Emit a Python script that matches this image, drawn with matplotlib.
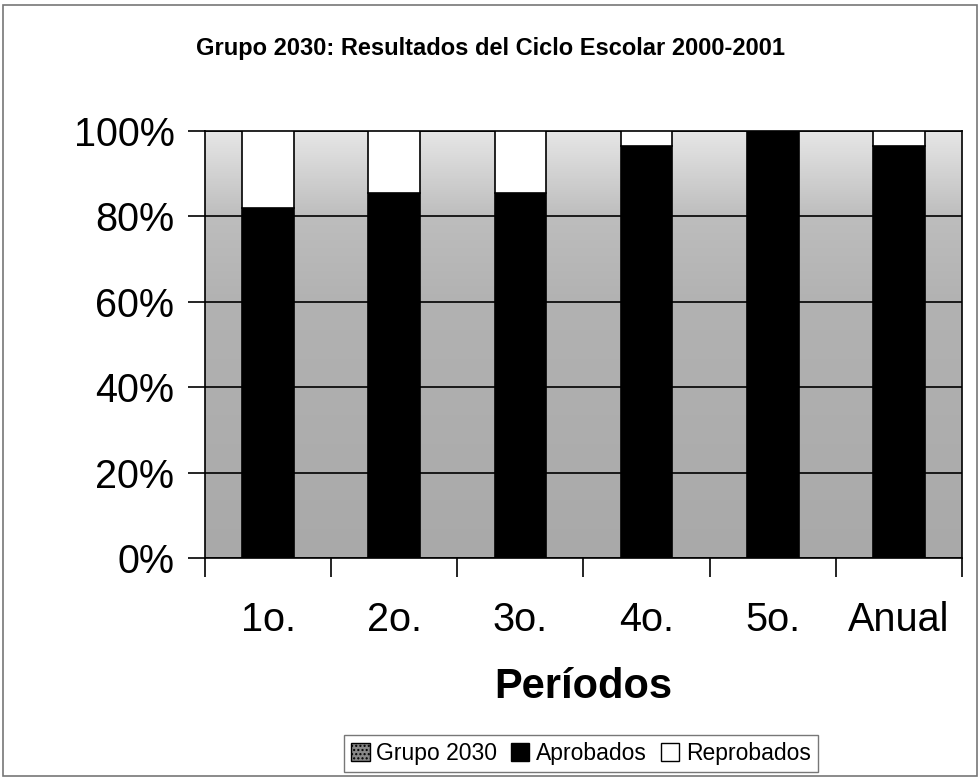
import matplotlib
matplotlib.use("Agg")
import matplotlib.pyplot as plt
import numpy as np
from matplotlib import font_manager
from matplotlib.patches import Patch, Rectangle
from matplotlib.colors import LinearSegmentedColormap

names = {f.name for f in font_manager.fontManager.ttflist}
narrow = "Liberation Sans Narrow" if "Liberation Sans Narrow" in names else "Liberation Sans"
plt.rcParams['font.family'] = ['Liberation Sans', 'DejaVu Sans']

periodos = ["1o.", "2o.", "3o.", "4o.", "5o.", "Anual"]
aprobados = [0.82, 0.855, 0.855, 0.966, 1.0, 0.966]
reprobados = [1 - a for a in aprobados]

fig = plt.figure(figsize=(9.8, 7.78), dpi=100)
ax = fig.add_axes([0.2092, 0.2828, 0.7724, 0.5488])

x = np.arange(len(periodos))
ax.set_xlim(-0.5, len(periodos) - 0.5)
ax.set_ylim(0, 1)

# plot area background: light at the top, darker gray below
cmap = LinearSegmentedColormap.from_list(
    "bg", [(0.0, "#a9a9a9"), (0.6, "#b2b2b2"), (0.8, "#bdbdbd"), (1.0, "#e6e6e6")])
grad = np.linspace(0, 1, 256).reshape(-1, 1)
ax.imshow(grad, extent=(-0.5, len(periodos) - 0.5, 0, 1), origin="lower",
          aspect="auto", cmap=cmap, zorder=0)

ax.yaxis.grid(True, color="black", linewidth=1.2, zorder=1)
ax.set_axisbelow(True)

w = 0.41
ax.bar(x, aprobados, w, color="black", edgecolor="black", linewidth=1.2, zorder=3, label="Aprobados")
ax.bar(x, reprobados, w, bottom=aprobados, color="white", edgecolor="black",
       linewidth=1.2, zorder=3, label="Reprobados")

ax.set_yticks([0, 0.2, 0.4, 0.6, 0.8, 1.0])
ax.set_yticklabels(["0%", "20%", "40%", "60%", "80%", "100%"], fontsize=28.5)
ax.set_xticks(x)
ax.set_xticklabels(periodos, fontsize=28.5)
ax.set_xticks(np.arange(len(periodos) + 1) - 0.5, minor=True)
ax.tick_params(axis="x", which="major", length=0, pad=31)
ax.tick_params(axis="x", which="minor", length=14, width=1.2, direction="out")
ax.tick_params(axis="y", length=12, width=1.2, direction="out", pad=10)
for s in ax.spines.values():
    s.set_linewidth(1.2)

ax.set_xlabel("Períodos", fontsize=30, fontweight="bold", labelpad=20)

fig.text(0.5, 0.938, "Grupo 2030: Resultados del Ciclo Escolar 2000-2001",
         ha="center", va="center", fontsize=17, fontweight="bold", family=[narrow, "DejaVu Sans"])

handles = [Patch(facecolor="#888888", edgecolor="black", hatch="....", label="Grupo 2030"),
           Patch(facecolor="black", edgecolor="black", label="Aprobados"),
           Patch(facecolor="white", edgecolor="black", label="Reprobados")]
leg = fig.legend(handles=handles, loc="center", bbox_to_anchor=(0.593, 0.0315), ncol=3,
                 fontsize=16.5, frameon=True, fancybox=False, edgecolor="#555555",
                 handlelength=0.8, handleheight=0.8, handletextpad=0.3, columnspacing=0.6,
                 borderpad=0.3)
leg.get_frame().set_linewidth(1.0)

fig.add_artist(Rectangle((0.003, 0.003), 0.994, 0.990, transform=fig.transFigure,
                         fill=False, edgecolor="#777777", linewidth=1.2))

fig.savefig("out.png", dpi=100)
